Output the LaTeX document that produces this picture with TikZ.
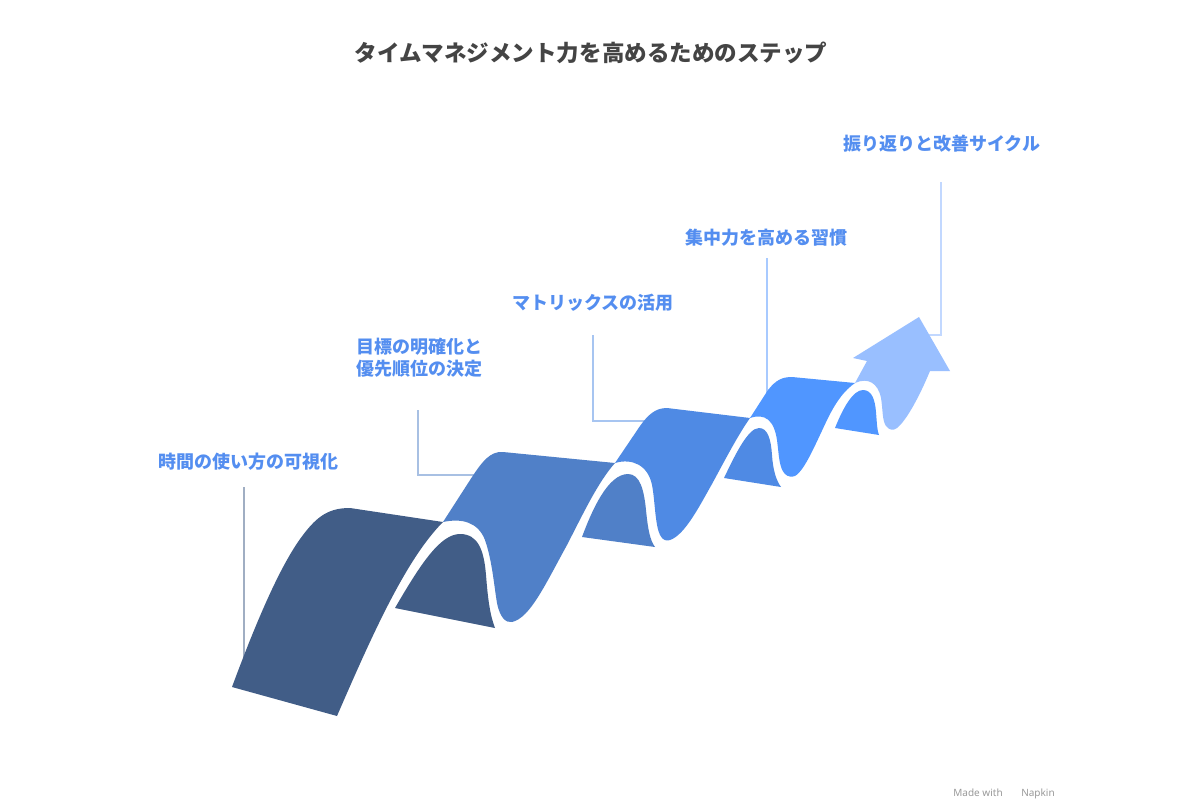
\documentclass[tikz,border=0pt]{standalone}
\usepackage{fontspec}
\newfontfamily\jp{Noto Sans CJK JP}
\newfontfamily\wm{Noto Sans}
\definecolor{cA}{RGB}{65,93,135}
\definecolor{cB}{RGB}{80,128,200}
\definecolor{cC}{RGB}{79,138,228}
\definecolor{cD}{RGB}{80,150,255}
\definecolor{cE}{RGB}{153,191,255}
\definecolor{labc}{RGB}{84,142,240}
\definecolor{titc}{RGB}{68,68,68}
\tikzset{
  lab/.style={anchor=base west,inner sep=0pt,text=labc,font=\jp\bfseries\fontsize{13.5}{16}\selectfont},
  leader/.style={line width=1pt},
}
\begin{document}
\begin{tikzpicture}[x=0.75pt,y=-0.75pt]
\useasboundingbox[fill=white] (0,0) rectangle (1200,800);

% title
\node[anchor=base,inner sep=0pt,text=titc,font=\jp\bfseries\fontsize{16.9}{20}\selectfont] (title) at (591,61.5) {タイムマネジメント力を高めるためのステップ};

% labels
\node[lab] (l1) at (158,468) {時間の使い方の可視化};
\node[lab] (l2a) at (356,353) {目標の明確化と};
\node[lab] (l2b) at (356,375) {優先順位の決定};
\node[lab] (l3) at (512,309) {マトリックスの活用};
\node[lab] (l4) at (685,244) {集中力を高める習慣};
\node[lab] (l5) at (843,150) {振り返りと改善サイクル};

% leader coordinates
\coordinate (p1a) at (244,487); \coordinate (p1b) at (244,662);
\coordinate (p2a) at (418,410); \coordinate (p2b) at (418,475); \coordinate (p2c) at (476,475);
\coordinate (p3a) at (593,335); \coordinate (p3b) at (593,421); \coordinate (p3c) at (650,421);
\coordinate (p4a) at (767,258); \coordinate (p4b) at (767,405);
\coordinate (p5a) at (941,182); \coordinate (p5b) at (941,335); \coordinate (p5c) at (925,335);

\draw[leader,cA!50!white] (p1a) -- (p1b);
\draw[leader,cB!50!white] (p2a) -- (p2b) -- (p2c);
\draw[leader,cC!50!white] (p3a) -- (p3b) -- (p3c);
\draw[leader,cD!50!white] (p4a) -- (p4b);
\draw[leader,cE!60!white] (p5a) -- (p5b) -- (p5c);

% arrow (segment 5)
\fill[cE] (855,383) .. controls (868,377) and (878,383) .. (881,398)
  .. controls (883,410) and (882,420) .. (886,426)
  .. controls (889,430) and (893,431) .. (897,428)
  .. controls (907,420) and (920,395) .. (930,371)
  -- (950,371) -- (919,317) -- (853,358) -- (867,361) -- cycle;

% segment 4
\fill[cD] (835,428) .. controls (843,408) and (853,390) .. (863,390)
  .. controls (872,390) and (875,400) .. (876,412)
  .. controls (877,424) and (877,430) .. (879,435) -- cycle;
\fill[cD] (750,418) .. controls (765,413) and (774,420) .. (777,440)
  .. controls (779,455) and (779,468) .. (785,474)
  .. controls (788,477) and (792,477) .. (795,476)
  .. controls (805,470) and (815,445) .. (828,418)
  .. controls (837,400) and (845,390) .. (855,383)
  -- (792,377) .. controls (782,377) and (776,380) .. (768,390) -- cycle;

% segment 3
\fill[cC] (724,478) .. controls (735,455) and (748,428) .. (759,428)
  .. controls (768,428) and (771,440) .. (772,455)
  .. controls (773,470) and (776,480) .. (781,487) -- cycle;
\fill[cC] (615,463) .. controls (632,458) and (648,465) .. (652,485)
  .. controls (655,500) and (655,525) .. (660,535)
  .. controls (663,541) and (667,541) .. (670,540)
  .. controls (685,535) and (700,505) .. (712,484)
  .. controls (725,460) and (738,435) .. (750,418)
  -- (667,408) .. controls (655,408) and (648,415) .. (640,426) -- cycle;

% segment 2
\fill[cB] (582,537) .. controls (592,510) and (608,474) .. (628,474)
  .. controls (640,474) and (644,490) .. (646,510)
  .. controls (648,530) and (650,540) .. (655,547) -- cycle;
\fill[cB] (443,522) .. controls (462,518) and (478,522) .. (485,540)
  .. controls (492,560) and (494,585) .. (497,603)
  .. controls (500,618) and (506,623) .. (512,622)
  .. controls (530,618) and (545,585) .. (567,545)
  .. controls (583,514) and (598,482) .. (615,463)
  -- (503,452) .. controls (490,451) and (482,462) .. (472,477) -- cycle;

% segment 1
\fill[cA] (395,608) .. controls (420,565) and (440,534) .. (460,534)
  .. controls (478,534) and (484,550) .. (486,575)
  .. controls (488,600) and (490,615) .. (495,628) -- cycle;
\fill[cA] (232,687) .. controls (255,625) and (280,565) .. (303,535)
  .. controls (318,515) and (330,508) .. (350,508)
  -- (443,522) .. controls (405,560) and (370,640) .. (337,716) -- cycle;

% watermark
\node[anchor=base east,inner sep=0pt,text=black!40,font=\wm\fontsize{7.5}{9}\selectfont] (wm) at (1055,796) {Made with \hspace{12pt}Napkin};
\end{tikzpicture}
\end{document}
